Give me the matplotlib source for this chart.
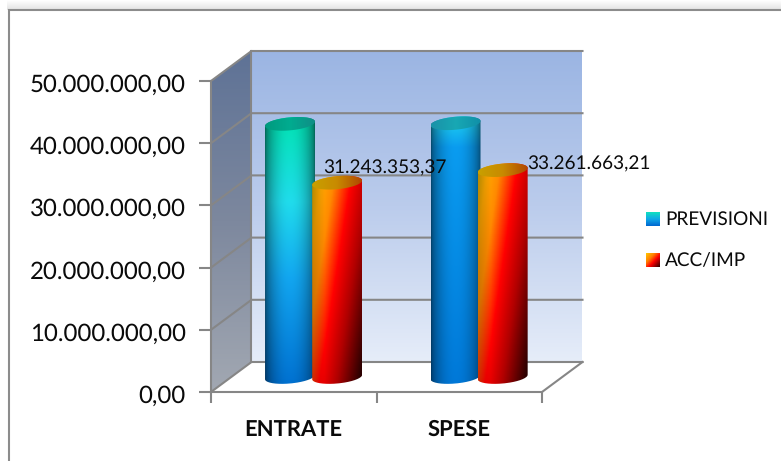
import numpy as np
import matplotlib
matplotlib.use('Agg')
import matplotlib.pyplot as plt
from matplotlib.colors import LinearSegmentedColormap, to_rgb
from matplotlib.patches import PathPatch
from matplotlib.path import Path
from matplotlib.transforms import ScaledTranslation

categories = ['ENTRATE', 'SPESE']
previsioni = [40700000, 40800000]
acc_imp = [31243353.37, 33261663.21]
y_ticks = [0, 10000000, 20000000, 30000000, 40000000, 50000000]
series_names = ['PREVISIONI', 'ACC/IMP']

W, H = 781, 461
GREY = '#868686'
plt.rcParams['font.family'] = ['Lato', 'DejaVu Sans']
plt.rcParams['text.hinting'] = 'no_hinting'
plt.rcParams['text.hinting_factor'] = 1

fig = plt.figure(figsize=(W / 100, H / 100), dpi=100, facecolor='white')
# front plane of the box, the depth is drawn with offsets from here
ax = fig.add_axes([211 / W, 1 - 392 / H, 331 / W, 311 / H])
ax.patch.set_visible(False)
ax.set_xlim(0, 2)
ax.set_ylim(0, 50000000)

PX_X = 2 / 331
PX_Y = 50000000 / 311
DX = 40.5 * PX_X
DY = 30 * PX_Y


def euro(v):
    return f'{v:,.2f}'.replace(',', '#').replace('.', ',').replace('#', '.')


def ramp(stops):
    return LinearSegmentedColormap.from_list('r', [(p, to_rgb(c)) for p, c in stops])


def paint(rgb, x0, x1, y0, y1, clip_verts, z):
    im = ax.imshow(rgb, extent=[x0, x1, y0, y1], origin='upper', aspect='auto',
                   interpolation='bilinear', zorder=z)
    patch = PathPatch(Path(clip_verts), transform=ax.transData, fc='none', ec='none')
    ax.add_patch(patch)
    patch.set_clip_on(False)
    im.set_clip_path(patch)
    im.set_clip_box(fig.bbox)
    return im


def vertical(stops, n=256):
    return ramp(stops)(np.linspace(0, 1, n))[:, :3].reshape(n, 1, 3)


# back wall and left wall
paint(vertical([(0, '#9BB5E3'), (0.5, '#BBCCEC'), (1, '#E6EDF9')]),
      DX, 2 + DX, DY, 50000000 + DY,
      [(DX, DY), (2 + DX, DY), (2 + DX, 50000000 + DY), (DX, 50000000 + DY), (DX, DY)], 1)
paint(vertical([(0, '#5E7296'), (0.5, '#7D889E'), (1, '#A2A8B2')]),
      0, DX, 0, 50000000 + DY,
      [(0, 0), (DX, DY), (DX, 50000000 + DY), (0, 50000000), (0, 0)], 1)

for v in y_ticks:
    ax.plot([0, DX, 2 + DX], [v, v + DY, v + DY], color=GREY, lw=1.5, clip_on=False, zorder=2,
            solid_joinstyle='miter')
ax.plot([DX, DX], [DY, 50000000 + DY], color=GREY, lw=1.5, clip_on=False, zorder=2)
ax.plot([2, 2 + DX], [0, DY], color=GREY, lw=1.5, clip_on=False, zorder=2)

# cylinders
BAR_W = 0.302
OFFS = [-0.145, 0.14]
BASE = DY / 2
ELL_H = 6.5 * PX_Y
TILT = 2.2 * PX_Y


def rim(xc, y, a, b):
    t = np.linspace(a, b, 60)
    return np.column_stack([xc + BAR_W / 2 * np.cos(t),
                            y + ELL_H * np.sin(t) + TILT * np.cos(t)])


def cylinder(xc, value, rgb, cap_colors, z):
    top = BASE + value
    xc = xc + DX / 2
    body = np.vstack([rim(xc, top, 0, np.pi), rim(xc, BASE, np.pi, 2 * np.pi), rim(xc, top, 0, 0.001)])
    x0, x1 = xc - BAR_W / 2, xc + BAR_W / 2
    paint(rgb, x0, x1, BASE - ELL_H - TILT, top + ELL_H + TILT, body, z)
    cap = rim(xc, top, 0, 2 * np.pi)
    grad = ramp(cap_colors)(np.linspace(0, 1, 64))[:, :3].reshape(1, 64, 3)
    paint(grad, x0, x1, top - ELL_H - TILT, top + ELL_H + TILT, cap, z + 0.1)


def blue_fill(stops):
    col = ramp(stops)(np.linspace(0, 1, 256))[:, :3]
    u = np.linspace(0, 1, 80)
    shade = 0.45 + 0.55 * np.sin(np.pi * u) ** 0.6
    return col[:, None, :] * shade[None, :, None]


def red_fill():
    cmap = ramp([(0, '#E0B000'), (0.13, '#FFA800'), (0.28, '#FF8A00'), (0.5, '#FF0000'),
                 (0.72, '#B00000'), (1, '#2C0000')])
    u, d = np.meshgrid(np.linspace(0, 1, 80), np.linspace(0, 1, 256))
    rgb = cmap(np.clip(0.62 * u + 0.42 * d, 0, 1))[:, :, :3]
    # darker along the left side
    return rgb * (0.8 + 0.2 * np.clip(u / 0.25, 0, 1))[:, :, None]


fills = [blue_fill([(0, '#00E2B0'), (0.32, '#20DCEC'), (0.6, '#12A6F0'), (1, '#0070D0')]),
         blue_fill([(0, '#22D8F0'), (0.12, '#0A9CF0'), (1, '#0078D8')])]
caps = [[(0, '#009A7E'), (0.5, '#00AC90'), (1, '#108E86')],
        [(0, '#1A92A8'), (0.5, '#18A8B4'), (1, '#1090A8')]]
acc_cap = [(0, '#C8A000'), (0.5, '#C88A00'), (1, '#B04800')]

for i in range(len(categories)):
    cylinder(i + 0.5 + OFFS[0], previsioni[i], fills[i], caps[i], 3 + i)
    cylinder(i + 0.5 + OFFS[1], acc_imp[i], red_fill(), acc_cap, 3.5 + i)

ax.set_xlim(0, 2)
ax.set_ylim(0, 50000000)

# axes
for s in ['top', 'right']:
    ax.spines[s].set_visible(False)
for s in ['left', 'bottom']:
    ax.spines[s].set_color(GREY)
    ax.spines[s].set_linewidth(1.5)
    ax.spines[s].set_zorder(2.5)
ax.set_yticks(y_ticks)
ax.set_yticklabels([euro(v) for v in y_ticks], fontsize=17.2, color='#0A0A0A')
ax.set_xticks([0, 1, 2])
ax.set_xticklabels([])
ax.set_xticks([0.5, 1.5], minor=True)
ax.set_xticklabels(categories, minor=True, fontsize=16.2, fontweight='bold', color='#0A0A0A')
ax.tick_params(axis='y', length=9, width=1.5, color=GREY, pad=9)
ax.tick_params(axis='x', which='major', length=8, width=1.5, color=GREY)
ax.tick_params(axis='x', which='minor', length=0, pad=20)
nudge = ScaledTranslation(0, -2 / 100, fig.dpi_scale_trans)
for lab in ax.get_yticklabels():
    lab.set_transform(lab.get_transform() + nudge)

# value labels on the second series
ax.text(1.053, acc_imp[0] + 4840000, euro(acc_imp[0]), fontsize=13.7, ha='center',
        va='center', color='#0A0A0A', zorder=8, clip_on=False)
ax.text(2.281, acc_imp[1] + 3320000, euro(acc_imp[1]), fontsize=13.7, ha='center',
        va='center', color='#0A0A0A', zorder=8, clip_on=False)

# legend
swatch_y = [212, 253]
for i, name in enumerate(series_names):
    leg = fig.add_axes([646 / W, 1 - (swatch_y[i] + 14) / H, 14 / W, 14 / H])
    leg.set_axis_off()
    if i == 0:
        leg.imshow(vertical([(0, '#10E0C0'), (0.5, '#10A8E8'), (1, '#0068D0')], 32), aspect='auto')
    else:
        cmap = ramp([(0, '#FFD000'), (0.35, '#FF8000'), (0.6, '#FF0000'), (1, '#300000')])
        u, d = np.meshgrid(np.linspace(0, 1, 32), np.linspace(0, 1, 32))
        leg.imshow(cmap((u + d) / 2)[:, :, :3], aspect='auto')
    fig.text(665 / W, 1 - (swatch_y[i] + 7) / H, name, fontsize=13.7, va='center', color='#0A0A0A')

# frame only on the top and left, soft shadow above the top line
for k in range(10):
    fig.add_artist(plt.Line2D([7 / W, 1], [1 - (k + 0.5) / H] * 2, color='black',
                              alpha=0.002 + 0.012 * k, lw=0.72))
fig.add_artist(plt.Line2D([8.5 / W, 8.5 / W, 1], [0, 1 - 10.5 / H, 1 - 10.5 / H],
                          color='#8C8C8C', lw=1.5, solid_joinstyle='miter'))

fig.savefig('out.png', dpi=100)
